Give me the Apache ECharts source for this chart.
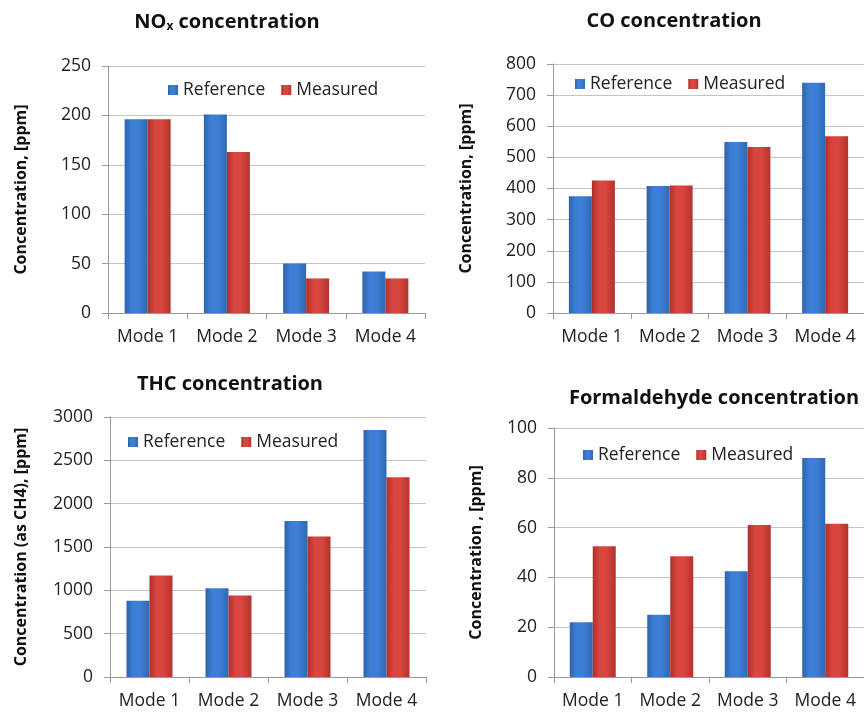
<!DOCTYPE html>
<html>
<head>
<meta charset="utf-8">
<script src="https://cdn.jsdelivr.net/npm/echarts@6/dist/echarts.min.js"></script>
<style>html,body{margin:0;padding:0;background:#fff}#c{width:864px;height:715px}</style>
</head>
<body>
<div id="c"></div>
<script>
var categories = ['Mode 1', 'Mode 2', 'Mode 3', 'Mode 4'];
var seriesNames = ['Reference', 'Measured'];

var noxReference = [196, 201, 50, 42];
var noxMeasured = [196, 163, 35, 35];
var coReference = [375, 408, 549, 740];
var coMeasured = [426, 410, 533, 568];
var thcReference = [880, 1025, 1800, 2850];
var thcMeasured = [1170, 940, 1620, 2305];
var hchoReference = [22, 25, 42.5, 88];
var hchoMeasured = [52.5, 48.5, 61, 61.5];

var noxTicks = {min: 0, max: 250, interval: 50};
var coTicks = {min: 0, max: 800, interval: 100};
var thcTicks = {min: 0, max: 3000, interval: 500};
var hchoTicks = {min: 0, max: 100, interval: 20};

var FONT = 'Open Sans';
var chart = echarts.init(document.getElementById('c'));

function grad(c0, c1, c2) {
  return new echarts.graphic.LinearGradient(0, 0, 1, 0, [
    {offset: 0, color: c0}, {offset: 0.3, color: c1}, {offset: 0.6, color: c1}, {offset: 1, color: c2}
  ]);
}
var blueFill = grad('#2e62ab', '#3d7fd6', '#3068b3');
var redFill = grad('#ad302b', '#d9453f', '#b2332e');

var grids = [
  {left: 108, top: 66, width: 317, height: 247},
  {left: 553, top: 64, width: 317, height: 249},
  {left: 110, top: 417, width: 316, height: 260},
  {left: 554, top: 428, width: 317, height: 249}
];
var ticks = [noxTicks, coTicks, thcTicks, hchoTicks];
var yNames = ['Concentration, [ppm]', 'Concentration, [ppm]', 'Concentration (as CH4), [ppm]', 'Concentration , [ppm]'];
var yGaps = [79, 79, 81, 70];
var data = [[noxReference, noxMeasured], [coReference, coMeasured], [thcReference, thcMeasured], [hchoReference, hchoMeasured]];

var xAxes = [], yAxes = [], series = [];
grids.forEach(function (g, i) {
  xAxes.push({
    type: 'category', gridIndex: i, data: categories,
    axisLine: {lineStyle: {color: '#9a9a9a'}},
    axisTick: {show: true, length: 6, lineStyle: {color: '#9a9a9a'}},
    axisLabel: {fontFamily: FONT, fontSize: 17.5, color: '#222', margin: 15, interval: 0, hideOverlap: false}
  });
  yAxes.push({
    type: 'value', gridIndex: i, min: ticks[i].min, max: ticks[i].max, interval: ticks[i].interval,
    name: yNames[i], nameLocation: 'middle', nameGap: yGaps[i], nameRotate: 90,
    nameTextStyle: {fontFamily: FONT, fontSize: 16, fontWeight: 'bold', color: '#111'},
    axisLine: {show: true, lineStyle: {color: '#9a9a9a'}},
    axisTick: {show: true, length: 6, lineStyle: {color: '#9a9a9a'}},
    splitLine: {lineStyle: {color: '#c4c4c4'}},
    axisLabel: {fontFamily: FONT, fontSize: 17.5, color: '#222', margin: 17,
      formatter: function (v) { return String(v); }}
  });
  series.push({
    name: seriesNames[0], type: 'bar', xAxisIndex: i, yAxisIndex: i, data: data[i][0],
    barWidth: 23, barGap: '0%', itemStyle: {color: blueFill}
  });
  series.push({
    name: seriesNames[1], type: 'bar', xAxisIndex: i, yAxisIndex: i, data: data[i][1],
    barWidth: 23, barGap: '0%', itemStyle: {color: redFill}
  });
});

var titleStyle = {
  fontFamily: FONT, fontSize: 20, fontWeight: 'bold', color: '#111',
  rich: {
    b: {fontFamily: FONT, fontSize: 20, fontWeight: 'bold', color: '#111'},
    s: {fontFamily: FONT, fontSize: 12, fontWeight: 'bold', color: '#111', padding: [10, 0, 0, 0]}
  }
};
var titles = [
  {text: '{b|NO}{s|x}{b| concentration}', left: 222, top: 6},
  {text: 'CO concentration', left: 669, top: 6},
  {text: 'THC concentration', left: 225, top: 369},
  {text: 'Formaldehyde concentration', left: 709, top: 383}
].map(function (t) { t.textAlign = 'center'; t.textStyle = titleStyle; return t; });

var legendPos = [[163, 76], [570, 70], [123, 428], [578, 441]];
var legends = legendPos.map(function (p) {
  return {
    data: seriesNames, left: p[0], top: p[1], icon: 'rect', itemWidth: 10, itemHeight: 10, itemGap: 16,
    textStyle: {fontFamily: FONT, fontSize: 17.5, color: '#222'},
    selectedMode: false
  };
});

chart.setOption({
  backgroundColor: '#fff',
  animation: false,
  title: titles,
  legend: legends,
  grid: grids,
  xAxis: xAxes,
  yAxis: yAxes,
  series: series
});
</script>
</body>
</html>
